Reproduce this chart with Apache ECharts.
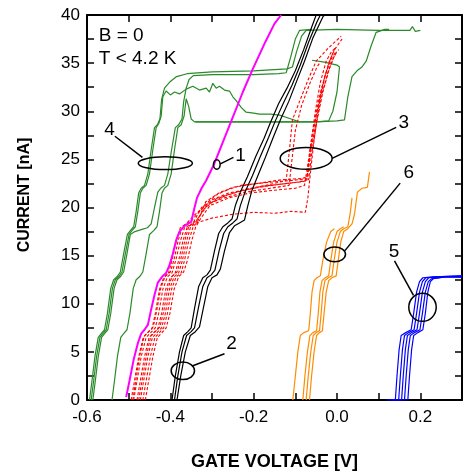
<!DOCTYPE html>
<html>
<head>
<meta charset="utf-8">
<script src="https://cdn.jsdelivr.net/npm/echarts@6/dist/echarts.min.js"></script>
<style>
  html, body { margin: 0; padding: 0; background: #fff; }
  #chart { width: 466px; height: 476px; }
</style>
</head>
<body>
<div id="chart"></div>
<script>
// group 4 (green), hysteresis sweeps
var green1 = [[-0.594,0],[-0.588,2],[-0.581,4.5],[-0.573,6.5],[-0.566,6.9],[-0.558,7.3],[-0.551,9],[-0.543,11.6],[-0.536,12.5],[-0.528,12.8],[-0.520,13.3],[-0.512,15.2],[-0.503,17.2],[-0.496,17.6],[-0.488,18],[-0.482,19.6],[-0.476,21.5],[-0.470,22],[-0.462,22.3],[-0.454,23.5],[-0.446,26],[-0.438,28.3],[-0.431,28.6],[-0.425,29.2],[-0.421,31.2],[-0.414,32.4],[-0.40,33.1],[-0.385,33.6],[-0.36,33.9],[-0.30,34.1],[-0.2,34.2],[-0.12,34.4],[-0.107,34.6],[-0.097,36.2],[-0.085,37.8],[-0.074,38.4],[0.0,38.5],[0.1,38.4],[0.175,38.4],[0.181,38.8],[0.188,38.3],[0.2,38.4]];
var green2 = [[-0.590,0],[-0.584,2],[-0.577,4.5],[-0.569,6.5],[-0.562,6.9],[-0.554,7.3],[-0.547,9],[-0.539,11.6],[-0.532,12.5],[-0.524,12.8],[-0.516,13.3],[-0.508,15.2],[-0.499,17.2],[-0.492,17.6],[-0.484,18],[-0.478,19.6],[-0.472,21.5],[-0.466,22],[-0.458,22.3],[-0.450,23.5],[-0.442,26],[-0.434,28.3],[-0.428,28.7],[-0.422,29.5],[-0.418,31.5],[-0.410,32.1],[-0.400,31.7],[-0.390,32.0],[-0.378,31.8],[-0.362,32.3],[-0.346,32.6],[-0.330,32.2],[-0.314,32.4],[-0.306,32.0],[-0.298,32.9],[-0.290,32.4],[-0.282,32.6],[-0.270,32.2],[-0.258,32.1],[-0.250,31.5],[-0.242,31.1],[-0.230,30.4],[-0.218,29.9],[-0.200,29.8],[-0.186,29.7],[-0.160,29.7],[-0.138,29.6],[-0.110,29.2],[-0.090,28.9]];
var green3 = [[-0.586,0],[-0.580,2],[-0.573,4.5],[-0.565,6.5],[-0.558,6.9],[-0.550,7.3],[-0.543,9],[-0.535,11.6],[-0.528,12.5],[-0.520,12.8],[-0.512,13.3],[-0.504,15.2],[-0.496,17.2],[-0.485,17.5],[-0.470,17.7],[-0.455,17.9],[-0.446,18.3],[-0.438,20],[-0.430,21.6],[-0.423,22],[-0.414,22.3],[-0.406,23.5],[-0.397,26],[-0.388,28.3],[-0.380,28.6],[-0.372,29.2],[-0.368,31],[-0.362,32.4],[-0.355,33.3],[-0.345,33.7],[-0.30,33.8],[-0.20,33.8],[-0.14,33.9],[-0.122,34.0],[-0.112,35.5],[-0.100,37.5],[-0.090,38.4],[-0.06,38.5]];
var green4 = [[-0.540,0],[-0.534,2],[-0.527,4.5],[-0.519,6.5],[-0.512,6.9],[-0.504,7.3],[-0.497,9],[-0.489,11.6],[-0.482,12.5],[-0.474,12.8],[-0.466,13.3],[-0.458,15.2],[-0.450,17.2],[-0.440,17.6],[-0.432,18],[-0.426,19.6],[-0.420,21.5],[-0.414,22],[-0.406,22.3],[-0.398,23.5],[-0.390,26],[-0.382,28.3],[-0.374,28.6],[-0.367,29.5],[-0.362,31.3],[-0.356,30.5],[-0.350,29.2],[-0.342,28.9],[-0.25,28.9],[-0.15,28.9],[-0.05,28.9],[0.0,29.0],[0.018,29.1],[0.026,31.5],[0.036,33.6],[0.048,34.2],[0.06,34.6],[0.07,35.2],[0.082,36.8],[0.094,38.2],[0.115,38.5],[0.125,38.5]];
var green5 = [[-0.06,35.3],[-0.03,35.1],[0.0,34.8],[0.006,34.6],[0.0,32],[-0.01,30],[-0.02,29],[-0.05,28.9],[-0.2,28.9],[-0.34,28.9]];

// group 1 (magenta)
var magenta1 = [[-0.506,0.3],[-0.498,2],[-0.488,4.2],[-0.478,5.9],[-0.470,6.9],[-0.462,7.3],[-0.454,7.8],[-0.446,9.4],[-0.438,10.9],[-0.430,12.2],[-0.420,12.8],[-0.410,13.2],[-0.402,14],[-0.394,15.2],[-0.386,16.6],[-0.378,17.5],[-0.366,18.1],[-0.350,18.5],[-0.343,19.8],[-0.336,21],[-0.325,22],[-0.314,22.8],[-0.294,24.6],[-0.272,27],[-0.250,29.4],[-0.226,32],[-0.202,34.4],[-0.172,37.2],[-0.150,39.1],[-0.134,40]];

// group 3 (red, dashed)
var red1 = [[-0.494,0],[-0.486,2],[-0.476,4.5],[-0.465,6.5],[-0.455,7.0],[-0.444,7.4],[-0.436,9],[-0.426,11.5],[-0.416,12.7],[-0.405,13.1],[-0.396,14.5],[-0.386,16.5],[-0.376,17.9],[-0.362,18.3],[-0.350,18.6],[-0.330,19.6],[-0.300,20.8],[-0.260,21.5],[-0.200,22.0],[-0.140,22.4],[-0.100,22.6],[-0.074,22.8],[-0.066,25],[-0.052,28.5],[-0.038,31.5],[-0.022,34],[-0.008,35.6],[0.0,36.2]];
var red2 = [[-0.488,0],[-0.480,2],[-0.470,4.5],[-0.458,6.5],[-0.447,7.0],[-0.436,7.5],[-0.428,9],[-0.418,11.5],[-0.407,12.8],[-0.396,13.2],[-0.387,14.5],[-0.376,16.5],[-0.366,17.9],[-0.352,18.2],[-0.330,18.5],[-0.300,18.9],[-0.250,19.3],[-0.200,19.5],[-0.150,19.4],[-0.110,19.6],[-0.076,19.5],[-0.070,21],[-0.064,23.5],[-0.055,27],[-0.044,30.5],[-0.030,33.5],[-0.015,35.5],[-0.005,36.6]];
var red3 = [[-0.480,0],[-0.472,2],[-0.462,4.5],[-0.451,6.5],[-0.440,7.0],[-0.430,7.4],[-0.421,9],[-0.411,11.5],[-0.400,12.7],[-0.389,13.1],[-0.380,14.5],[-0.370,16.5],[-0.360,17.9],[-0.347,18.3],[-0.335,18.8],[-0.310,20.3],[-0.270,21.2],[-0.220,21.9],[-0.170,22.3],[-0.122,22.8],[-0.114,26],[-0.107,29.1],[-0.090,31],[-0.070,33.2],[-0.050,35.2],[-0.020,36.6],[0.010,37.8]];
var red4 = [[-0.472,0],[-0.464,2],[-0.454,4.5],[-0.443,6.5],[-0.432,7.0],[-0.421,7.5],[-0.412,9],[-0.402,11.5],[-0.391,12.8],[-0.380,13.2],[-0.371,14.5],[-0.361,16.5],[-0.352,17.9],[-0.340,18.4],[-0.320,19.8],[-0.290,20.9],[-0.240,21.6],[-0.180,22.2],[-0.120,22.5],[-0.080,22.7],[-0.068,22.9],[-0.061,25.5],[-0.048,29],[-0.034,32],[-0.018,34.5],[-0.004,36],[0.004,36.4]];
var red5 = [[-0.466,0],[-0.458,2],[-0.448,4.5],[-0.437,6.5],[-0.426,7.0],[-0.416,7.5],[-0.407,9],[-0.397,11.5],[-0.386,12.8],[-0.374,13.2],[-0.366,14.5],[-0.356,16.5],[-0.346,17.9],[-0.334,18.6],[-0.315,20.6],[-0.280,21.6],[-0.230,22.3],[-0.170,22.6],[-0.110,22.8],[-0.072,23],[-0.064,26],[-0.050,29.5],[-0.036,32.5],[-0.020,35],[-0.006,36.4],[0.012,37.5]];
var red6 = [[-0.460,0],[-0.452,2],[-0.442,4.5],[-0.431,6.5],[-0.420,7.0],[-0.410,7.5],[-0.401,9],[-0.391,11.5],[-0.380,12.8],[-0.368,13.3],[-0.359,14.5],[-0.349,16.5],[-0.339,18.0],[-0.328,18.8],[-0.305,20.2],[-0.260,21.0],[-0.210,21.5],[-0.150,21.8],[-0.100,22.0],[-0.078,22.3],[-0.070,24.5],[-0.058,28],[-0.044,31.2],[-0.028,33.8],[-0.012,35.6],[-0.002,36.2]];
var red7 = [[-0.490,0],[-0.483,2],[-0.474,4.5],[-0.463,6.6],[-0.452,7.1],[-0.441,7.6],[-0.433,9.2],[-0.423,11.6],[-0.412,12.9],[-0.400,13.3],[-0.391,14.6],[-0.381,16.6],[-0.371,18.0],[-0.358,18.5],[-0.340,19.3],[-0.310,20.4],[-0.270,21.0],[-0.220,21.6],[-0.160,22.0],[-0.115,22.3],[-0.108,25],[-0.100,28],[-0.085,30.6],[-0.066,32.8],[-0.048,34.6],[-0.040,35.1]];
var red8 = [[-0.476,0],[-0.468,2],[-0.458,4.5],[-0.447,6.6],[-0.436,7.1],[-0.425,7.6],[-0.416,9.2],[-0.406,11.6],[-0.395,12.9],[-0.384,13.3],[-0.375,14.6],[-0.365,16.6],[-0.356,18.0],[-0.344,18.5],[-0.325,20.0],[-0.290,21.3],[-0.250,22.1],[-0.190,22.5],[-0.130,22.9],[-0.085,23.0],[-0.070,23.2],[-0.063,26.5],[-0.052,30],[-0.040,33],[-0.026,35.2],[-0.012,36.3],[0.0,36.6]];

// group 2 (black)
var black1 = [[-0.396,0],[-0.388,2.5],[-0.378,5],[-0.368,6.7],[-0.358,7.1],[-0.350,7.5],[-0.342,9.5],[-0.332,11.8],[-0.322,12.7],[-0.312,13.0],[-0.304,13.5],[-0.294,15.5],[-0.284,17.3],[-0.274,18.0],[-0.262,18.4],[-0.252,18.8],[-0.244,20.2],[-0.232,21.6],[-0.215,23.2],[-0.195,25.3],[-0.175,27.2],[-0.160,28.8],[-0.140,30.8],[-0.120,32.4],[-0.100,34.2],[-0.080,36.4],[-0.062,38.6],[-0.050,40]];
var black2 = [[-0.390,0],[-0.382,2.5],[-0.372,5],[-0.361,6.7],[-0.350,7.1],[-0.342,7.5],[-0.333,9.5],[-0.322,11.8],[-0.312,12.7],[-0.302,13.0],[-0.293,13.5],[-0.283,15.5],[-0.272,17.3],[-0.262,18.0],[-0.250,18.4],[-0.240,18.8],[-0.232,20.2],[-0.220,21.7],[-0.203,23.3],[-0.184,25.3],[-0.164,27.3],[-0.148,29.0],[-0.128,30.9],[-0.108,32.7],[-0.088,34.8],[-0.068,37.2],[-0.048,39.3],[-0.040,40]];
var black3 = [[-0.384,0],[-0.375,2.5],[-0.364,5],[-0.352,6.7],[-0.340,7.1],[-0.330,7.6],[-0.321,9.5],[-0.310,11.8],[-0.300,12.7],[-0.288,13.0],[-0.280,13.6],[-0.270,15.5],[-0.258,17.4],[-0.246,18.1],[-0.234,18.4],[-0.222,18.7],[-0.214,20.2],[-0.204,21.8],[-0.190,23.3],[-0.172,25.2],[-0.152,27.4],[-0.135,29.2],[-0.116,31.0],[-0.098,33.0],[-0.078,35.2],[-0.058,37.6],[-0.034,39.8],[-0.030,40]];

// group 6 (orange)
var orange1 = [[-0.106,0],[-0.100,2.5],[-0.094,5],[-0.088,6.7],[-0.080,7.0],[-0.068,7.2],[-0.064,9],[-0.060,11.2],[-0.055,12.4],[-0.048,12.7],[-0.040,12.9],[-0.034,14.5],[-0.025,16.4],[-0.015,17.5],[-0.006,17.8]];
var orange2 = [[-0.082,0],[-0.077,2.5],[-0.071,5],[-0.065,6.7],[-0.058,7.0],[-0.049,7.2],[-0.045,9],[-0.041,11.2],[-0.036,12.4],[-0.028,12.7],[-0.020,12.9],[-0.015,14.5],[-0.008,16.4],[0.000,17.5],[0.008,17.8],[0.016,18.0]];
var orange3 = [[-0.074,0],[-0.069,2.5],[-0.063,5],[-0.057,6.7],[-0.050,7.0],[-0.042,7.2],[-0.038,9],[-0.034,11.2],[-0.029,12.4],[-0.021,12.7],[-0.012,12.9],[-0.007,14.5],[0.000,16.4],[0.008,17.5],[0.016,17.8],[0.026,18.0],[0.032,19.5],[0.036,21]];
var orange4 = [[-0.066,0],[-0.061,2.5],[-0.055,5],[-0.049,6.7],[-0.042,7.0],[-0.035,7.2],[-0.031,9],[-0.026,11.2],[-0.020,12.4],[-0.012,12.7],[-0.002,12.9],[0.003,14.5],[0.009,16.4],[0.016,17.5],[0.026,17.8],[0.036,18.3],[0.042,19.3],[0.049,21.6],[0.060,22.0],[0.073,22.1],[0.078,23.7]];

// group 5 (blue)
var blue1 = [[0.118,0],[0.140,0],[0.144,2.5],[0.149,5.2],[0.154,6.7],[0.165,7.0],[0.178,7.3],[0.184,9],[0.191,11.2],[0.198,12.3],[0.206,12.7],[0.23,12.8],[0.30,12.9]];
var blue2 = [[0.122,0],[0.148,0],[0.152,2.5],[0.157,5.2],[0.162,6.7],[0.172,7.0],[0.185,7.3],[0.191,9],[0.198,11.2],[0.205,12.3],[0.213,12.7],[0.24,12.8],[0.30,12.9]];
var blue3 = [[0.127,0],[0.155,0],[0.159,2.5],[0.164,5.2],[0.169,6.7],[0.179,7.0],[0.192,7.3],[0.198,9],[0.205,11.2],[0.212,12.3],[0.220,12.7],[0.25,12.8],[0.30,12.8]];
var blue4 = [[0.132,0],[0.162,0],[0.166,2.5],[0.171,5.2],[0.176,6.7],[0.186,7.0],[0.199,7.3],[0.205,9],[0.212,11.2],[0.219,12.3],[0.227,12.6],[0.26,12.8],[0.30,12.8]];
var blue5 = [[0.136,0],[0.170,0],[0.174,2.5],[0.179,5.2],[0.184,6.7],[0.194,7.0],[0.206,7.3],[0.212,9],[0.218,11.2],[0.224,12.3],[0.231,12.6],[0.26,12.8],[0.30,12.8]];

// annotations, in data units: [cx, cy, rx, ry]
var ellipses = [[-0.412,24.6,0.065,0.66],[-0.2885,24.47,0.008,0.5],[-0.074,25.1,0.0624,1.13],[-0.0056,15.13,0.026,0.77],[0.2052,9.63,0.0329,1.46],[-0.370,3.03,0.028,0.91]];
var labels = [['4',-0.546,28.1],['1',-0.2316,25.35],['3',0.160,28.83],['6',0.172,23.6],['5',0.1367,15.38],['2',-0.2532,5.85]];
var leaders = [[-0.533,27.4,-0.467,25.2],[-0.280,24.54,-0.2485,25.21],[0.142,28.33,-0.0116,25.1],[0.1516,22.53,0.018,15.47],[0.138,14.46,0.1836,10.86],[-0.27,4.81,-0.3476,3.53]];
var notes = [['B = 0',-0.5717,37.85],['T < 4.2 K',-0.5717,35.46]];

var FONT = '"Liberation Sans", Arial, Helvetica, sans-serif';

var traces = [
    {d: green1, c: '#2a8a2a', w: 1.2}, {d: green2, c: '#2a8a2a', w: 1.2}, {d: green3, c: '#2a8a2a', w: 1.2},
    {d: green4, c: '#2a8a2a', w: 1.2}, {d: green5, c: '#2a8a2a', w: 1.2},
    {d: red1, c: '#ff0000', w: 1.1, dash: true}, {d: red2, c: '#ff0000', w: 1.1, dash: true},
    {d: red3, c: '#ff0000', w: 1.1, dash: true}, {d: red4, c: '#ff0000', w: 1.1, dash: true},
    {d: red5, c: '#ff0000', w: 1.1, dash: true}, {d: red6, c: '#ff0000', w: 1.1, dash: true},
    {d: red7, c: '#ff0000', w: 1.1, dash: true}, {d: red8, c: '#ff0000', w: 1.1, dash: true},
    {d: magenta1, c: '#ff00ff', w: 2},
    {d: black1, c: '#000000', w: 1.2}, {d: black2, c: '#000000', w: 1.2}, {d: black3, c: '#000000', w: 1.2},
    {d: orange1, c: '#ff8c00', w: 1.2}, {d: orange2, c: '#ff8c00', w: 1.2}, {d: orange3, c: '#ff8c00', w: 1.2}, {d: orange4, c: '#ff8c00', w: 1.2},
    {d: blue1, c: '#0000ff', w: 1.2}, {d: blue2, c: '#0000ff', w: 1.2}, {d: blue3, c: '#0000ff', w: 1.2},
    {d: blue4, c: '#0000ff', w: 1.2}, {d: blue5, c: '#0000ff', w: 1.2}
];

var series = traces.map(function (t) {
    return {
        type: 'line',
        data: t.d,
        showSymbol: false,
        symbol: 'none',
        silent: true,
        lineStyle: {color: t.c, width: t.w, type: t.dash ? [3, 2] : 'solid'}
    };
});

var axisLine = {show: true, onZero: false, lineStyle: {color: '#000', width: 2}};
var tick = {show: true, inside: true, length: 7, lineStyle: {color: '#000', width: 1.5}};

var chart = echarts.init(document.getElementById('chart'), null, {renderer: 'canvas'});
chart.setOption({
    animation: false,
    backgroundColor: '#fff',
    grid: {left: 87, right: 4, top: 15, bottom: 64, containLabel: false},
    xAxis: [{
        type: 'value', min: -0.6, max: 0.3, interval: 0.1, position: 'bottom',
        axisLine: axisLine, axisTick: tick, splitLine: {show: false},
        axisLabel: {
            fontSize: 17, color: '#000', fontFamily: FONT, margin: 9, showMaxLabel: false,
            formatter: function (v) { return Math.round(v * 10) % 2 === 0 ? v.toFixed(1) : ''; }
        },
        name: 'GATE VOLTAGE [V]', nameLocation: 'middle', nameGap: 53,
        nameTextStyle: {fontSize: 18, fontWeight: 'bold', color: '#000', fontFamily: FONT}
    }, {
        type: 'value', min: -0.6, max: 0.3, interval: 0.1, position: 'top',
        axisLine: axisLine, axisTick: tick, splitLine: {show: false}, axisLabel: {show: false}
    }],
    yAxis: [{
        type: 'value', min: 0, max: 40, interval: 2.5, position: 'left',
        axisLine: axisLine, axisTick: tick, splitLine: {show: false},
        axisLabel: {
            fontSize: 17, color: '#000', fontFamily: FONT, margin: 7,
            formatter: function (v) { return v % 5 === 0 ? String(v) : ''; }
        }
    }, {
        type: 'value', min: 0, max: 40, interval: 2.5, position: 'right',
        axisLine: axisLine, axisTick: tick, splitLine: {show: false}, axisLabel: {show: false}
    }],
    series: series
});

// annotations: ellipses, leader lines, numbers and the B/T note
function toPx(x, y) {
    return chart.convertToPixel({xAxisIndex: 0, yAxisIndex: 0}, [x, y]);
}
var graphic = [];
ellipses.forEach(function (e) {
    var c = toPx(e[0], e[1]);
    var r = toPx(e[0] + e[2], e[1] + e[3]);
    graphic.push({
        type: 'ellipse', z: 100,
        shape: {cx: c[0], cy: c[1], rx: Math.abs(r[0] - c[0]), ry: Math.abs(c[1] - r[1])},
        style: {fill: 'none', stroke: '#000', lineWidth: 1.5}
    });
});
leaders.forEach(function (l) {
    var a = toPx(l[0], l[1]), b = toPx(l[2], l[3]);
    graphic.push({
        type: 'line', z: 100,
        shape: {x1: a[0], y1: a[1], x2: b[0], y2: b[1]},
        style: {stroke: '#000', lineWidth: 1.5}
    });
});
labels.forEach(function (t) {
    var p = toPx(t[1], t[2]);
    graphic.push({
        type: 'text', z: 100, x: p[0], y: p[1],
        style: {text: t[0], fill: '#000', font: '19px ' + FONT,
            textAlign: 'center', textVerticalAlign: 'middle', align: 'center', verticalAlign: 'middle'}
    });
});
notes.forEach(function (t) {
    var p = toPx(t[1], t[2]);
    graphic.push({
        type: 'text', z: 100, x: p[0], y: p[1],
        style: {text: t[0], fill: '#000', font: '19px ' + FONT,
            textAlign: 'left', textVerticalAlign: 'middle', align: 'left', verticalAlign: 'middle'}
    });
});
// y axis title
graphic.push({
    type: 'text', z: 100, x: 25, y: 195, rotation: Math.PI / 2,
    style: {text: 'CURRENT [nA]', fill: '#000', font: 'bold 16px ' + FONT,
        textAlign: 'center', textVerticalAlign: 'middle', align: 'center', verticalAlign: 'middle'}
});
chart.setOption({graphic: graphic});
</script>
</body>
</html>
